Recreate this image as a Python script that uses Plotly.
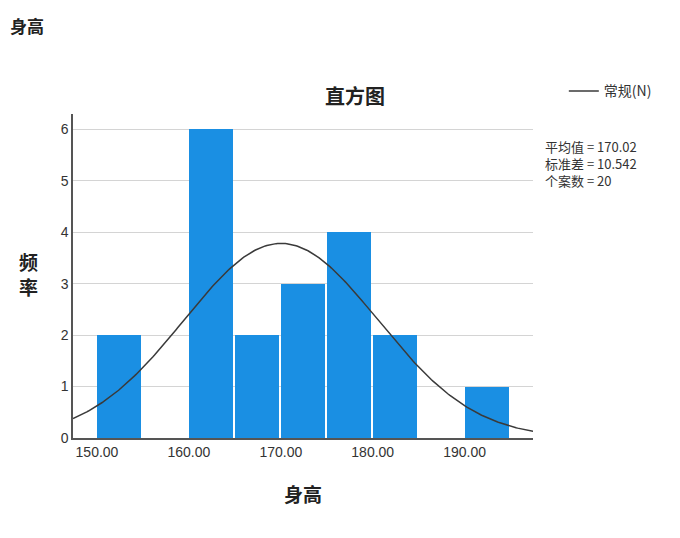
import numpy as np
import plotly.graph_objects as go

# histogram of 身高 (height), SPSS style
bin_left = [150, 155, 160, 165, 170, 175, 180, 185, 190]
counts = [2, 0, 6, 2, 3, 4, 2, 0, 1]
bin_width = 5

mean_value = 170.02
sd_value = 10.542
n_cases = 20

x_ticks = [150, 160, 170, 180, 190]
y_ticks = [0, 1, 2, 3, 4, 5, 6]
x_range = [147.39, 197.44]
y_range = [0, 6.3]

num_font = "Liberation Sans, Arial, Noto Sans CJK SC"
cjk_font = "Noto Sans CJK SC, Liberation Sans"

# the page draws the figure 8px in from the top-left corner
off = 8

# normal curve from the shown mean / sd, scaled to counts
xs = np.linspace(x_range[0], x_range[1], 300)
ys = n_cases * bin_width * np.exp(-0.5 * ((xs - mean_value) / sd_value) ** 2) / (sd_value * np.sqrt(2 * np.pi))

fig = go.Figure()
fig.add_trace(go.Bar(x=bin_left, y=counts, width=bin_width * 0.955, offset=0,
                     marker=dict(color="#1a8fe3", line=dict(width=0)),
                     showlegend=False, hoverinfo="skip"))
fig.add_trace(go.Scatter(x=xs, y=ys, mode="lines", name="常规(N)",
                         line=dict(color="#3a3a3a", width=1.5)))

fig.update_xaxes(range=x_range, tickvals=x_ticks, tickformat=".2f",
                 showgrid=False, zeroline=False, showline=True,
                 linecolor="#555555", linewidth=1.5, ticks="",
                 tickfont=dict(family=num_font, size=14, color="#333333"))
fig.update_yaxes(range=y_range, tickvals=y_ticks, showgrid=True,
                 gridcolor="#d4d4d4", gridwidth=1.2, zeroline=False,
                 showline=True, linecolor="#555555", linewidth=1.5, ticks="",
                 ticklen=0, tickfont=dict(family=num_font, size=14, color="#333333"))

stat_text = "<br>".join(["平均值 = %.2f" % mean_value,
                         "标准差 = %.3f" % sd_value,
                         "个案数 = %d" % n_cases])
fig.add_annotation(text=stat_text, xref="paper", yref="paper",
                   x=1.021, y=0.936, xanchor="left", yanchor="top", align="left",
                   showarrow=False, font=dict(family=cjk_font, size=13, color="#333333"))

fig.add_annotation(text="<b>身高</b>", xref="paper", yref="paper", x=-0.141, y=1.274,
                   xanchor="left", yanchor="middle", showarrow=False,
                   font=dict(family=cjk_font, size=17, color="#222222"))
fig.add_annotation(text="<b>频<br>率</b>", xref="paper", yref="paper", x=-0.097, y=0.507,
                   xanchor="center", yanchor="middle", showarrow=False,
                   font=dict(family=cjk_font, size=19, color="#222222"))
fig.add_annotation(text="<b>身高</b>", xref="paper", yref="paper", x=0.5, y=-0.171,
                   xanchor="center", yanchor="middle", showarrow=False,
                   font=dict(family=cjk_font, size=19, color="#222222"))

fig.update_layout(
    width=680, height=538,
    margin=dict(l=73 - off, r=147 + off, t=114 - off, b=100 + off),
    plot_bgcolor="white", paper_bgcolor="white",
    bargap=0,
    title=dict(text="<b>直方图</b>", x=(355 - off) / 680, xanchor="center",
               y=1 - (97 - off) / 538, yanchor="middle",
               font=dict(family=cjk_font, size=20, color="#222222")),
    legend=dict(x=1.067, y=1.07, xanchor="left", yanchor="middle",
                itemwidth=30, bgcolor="rgba(0,0,0,0)",
                font=dict(family=cjk_font, size=14, color="#333333")),
)

fig.write_html("out.html")
